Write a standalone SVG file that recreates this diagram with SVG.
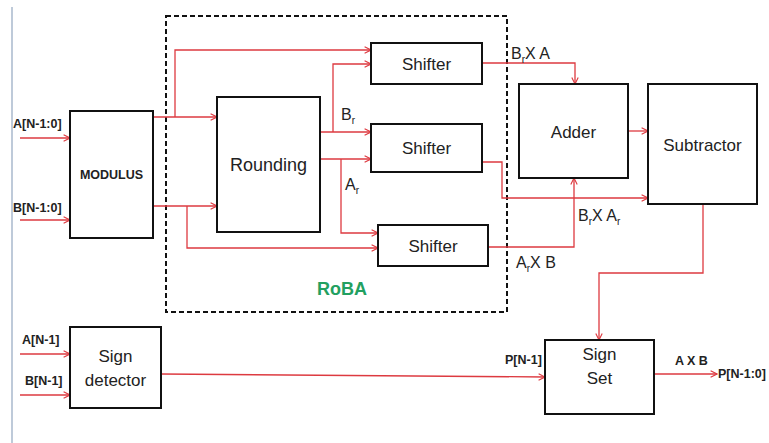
<svg xmlns="http://www.w3.org/2000/svg" width="769" height="443" viewBox="0 0 769 443">
<defs>
<style>
.box{fill:#fff;stroke:#111;stroke-width:2}
.w{stroke:#dd3a40;stroke-width:1.3;fill:none}
.t{font-family:"Liberation Sans",Arial,sans-serif;fill:#222;text-anchor:middle}
.big{font-size:17px}
.lab{font-family:"Liberation Sans",Arial,sans-serif;font-weight:bold;font-size:12.5px;fill:#222}
.sig{font-family:"Liberation Sans",Arial,sans-serif;font-size:16px;fill:#222}
</style>
<marker id="ah" viewBox="0 0 10 10" refX="9" refY="5" markerWidth="8" markerHeight="8" markerUnits="userSpaceOnUse" orient="auto">
<path d="M1,1 L9,5 L1,9" fill="none" stroke="#dd3a40" stroke-width="1.4"/>
</marker>
</defs>
<rect width="769" height="443" fill="#fff"/>
<line x1="12" y1="7" x2="12" y2="443" stroke="#a8b8cc" stroke-width="1.5"/>
<g id="roba">
<rect x="166" y="16" width="341" height="296" fill="none" stroke="#111" stroke-width="2" stroke-dasharray="5,3"/>
<text x="342" y="295" font-family="Liberation Sans,Arial,sans-serif" font-weight="bold" font-size="18" fill="#22a060" text-anchor="middle">RoBA</text>
</g>
<g id="connectors" marker-end="url(#ah)">
<path class="w" d="M20,138 H70"/>
<path class="w" d="M20,220 H70"/>
<path class="w" d="M153,117 H217"/>
<path class="w" d="M175,117 V50 H371"/>
<path class="w" d="M153,206 H217"/>
<path class="w" d="M187,206 V248 H378"/>
<path class="w" d="M320,132 H371"/>
<path class="w" d="M333,132 V64 H371"/>
<path class="w" d="M320,159 H371"/>
<path class="w" d="M341,159 V233 H378"/>
<path class="w" d="M482,63 H575 V84"/>
<path class="w" d="M482,162 H502 V198 H648"/>
<path class="w" d="M488,247 H574 V178"/>
<path class="w" d="M628,131 H648"/>
<path class="w" d="M703,204 V273 H599 V340"/>
<path class="w" d="M20,354 H70"/>
<path class="w" d="M20,395 H70"/>
<path class="w" d="M161,374 L545,377"/>
<path class="w" d="M654,374 H717"/>
</g>
<g id="modulus"><rect class="box" x="70" y="111" width="83" height="127"/><text class="lab" x="111.5" y="179" text-anchor="middle">MODULUS</text></g>
<g id="rounding"><rect class="box" x="217" y="97" width="103" height="135"/><text class="t" x="268.5" y="171" font-size="18">Rounding</text></g>
<g id="shifter1"><rect class="box" x="371" y="43" width="111" height="41"/><text class="t big" x="426.5" y="70">Shifter</text></g>
<g id="shifter2"><rect class="box" x="371" y="124" width="111" height="48"/><text class="t big" x="426.5" y="154">Shifter</text></g>
<g id="shifter3"><rect class="box" x="378" y="225" width="110" height="41"/><text class="t big" x="433" y="252">Shifter</text></g>
<g id="adder"><rect class="box" x="519" y="84" width="109" height="94"/><text class="t big" x="573.5" y="138">Adder</text></g>
<g id="subtractor"><rect class="box" x="648" y="84" width="109" height="120"/><text class="t big" x="702.5" y="151">Subtractor</text></g>
<g id="signdetector"><rect class="box" x="70" y="327" width="91" height="81"/><text class="t big" x="115.5" y="362">Sign</text><text class="t big" x="115.5" y="386">detector</text></g>
<g id="signset"><rect class="box" x="545" y="340" width="109" height="74"/><text class="t big" x="599.5" y="360">Sign</text><text class="t big" x="599.5" y="384">Set</text></g>
<g id="labels">
<text class="lab" x="13" y="128">A[N-1:0]</text>
<text class="lab" x="13" y="212">B[N-1:0]</text>
<text class="lab" x="22" y="344">A[N-1]</text>
<text class="lab" x="25" y="385">B[N-1]</text>
<text class="lab" x="505" y="364">P[N-1]</text>
<text class="lab" x="675" y="365">A X B</text>
<text class="lab" x="718" y="378">P[N-1:0]</text>
<text class="sig" x="341" y="120">B<tspan font-size="10" dy="4">r</tspan></text>
<text class="sig" x="345" y="190">A<tspan font-size="10" dy="4">r</tspan></text>
<text class="sig" x="511" y="59">B<tspan font-size="10" dy="4">r</tspan><tspan dy="-4">X A</tspan></text>
<text class="sig" x="578" y="221">B<tspan font-size="10" dy="4">r</tspan><tspan dy="-4">X A</tspan><tspan font-size="10" dy="4">r</tspan></text>
<text class="sig" x="516" y="268">A<tspan font-size="10" dy="4">r</tspan><tspan dy="-4">X B</tspan></text>
</g>
</svg>
